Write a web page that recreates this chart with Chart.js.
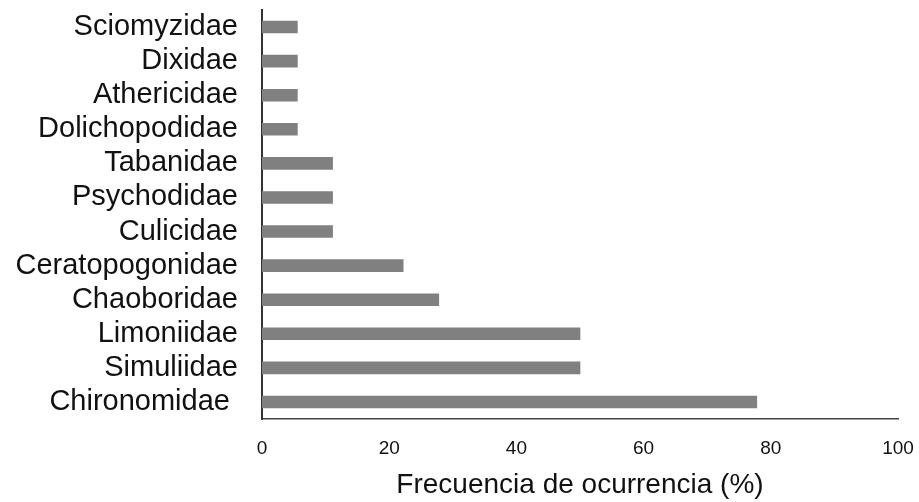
<!DOCTYPE html>
<html>
<head>
<meta charset="utf-8">
<script src="https://cdn.jsdelivr.net/npm/chart.js@4.4.1/dist/chart.umd.min.js"></script>
<style>
  html, body { margin: 0; padding: 0; background: #ffffff; }
  #wrap { width: 919px; height: 502px; position: relative; }
</style>
</head>
<body>
<div id="wrap"><canvas id="c"></canvas></div>
<script>
const families = ["Sciomyzidae", "Dixidae", "Athericidae", "Dolichopodidae", "Tabanidae", "Psychodidae", "Culicidae", "Ceratopogonidae", "Chaoboridae", "Limoniidae", "Simuliidae", "Chironomidae "];
const frequency = [5.56, 5.56, 5.56, 5.56, 11.1, 11.1, 11.1, 22.2, 27.8, 50.0, 50.0, 77.8];
const xTicks = [0, 20, 40, 60, 80, 100];
const xTitle = "Frecuencia de ocurrencia (%)";

const FONT = "'Liberation Sans', Arial, sans-serif";

new Chart(document.getElementById('c'), {
  type: 'bar',
  data: {
    labels: families,
    datasets: [{
      data: frequency,
      backgroundColor: '#808080',
      borderWidth: 0,
      barThickness: 12
    }]
  },
  options: {
    indexAxis: 'y',
    responsive: true,
    maintainAspectRatio: false,
    animation: false,
    layout: { padding: { top: 10, right: 21, left: 0, bottom: 0 } },
    plugins: { legend: { display: false }, tooltip: { enabled: false } },
    scales: {
      x: {
        min: 0, max: 100,
        afterBuildTicks: s => { s.ticks = xTicks.map(v => ({ value: v })); },
        afterFit: s => { s.height = 83; s.paddingLeft = 0; s.paddingRight = 0; },
        grid: { display: false },
        border: { display: true, color: '#444444', width: 1.5 },
        ticks: { color: '#111111', padding: 10, maxRotation: 0, font: { family: FONT, size: 19 } },
        title: { display: true, text: xTitle, color: '#111111', padding: { top: 0, bottom: 0 }, font: { family: FONT, size: 28 } }
      },
      y: {
        afterFit: s => { s.width = 262; s.paddingTop = 0; s.paddingBottom = 0; },
        grid: { display: false },
        border: { display: true, color: '#333333', width: 2 },
        ticks: { color: '#111111', padding: 16, autoSkip: false, font: { family: FONT, size: 29 } }
      }
    }
  }
});
</script>
</body>
</html>
